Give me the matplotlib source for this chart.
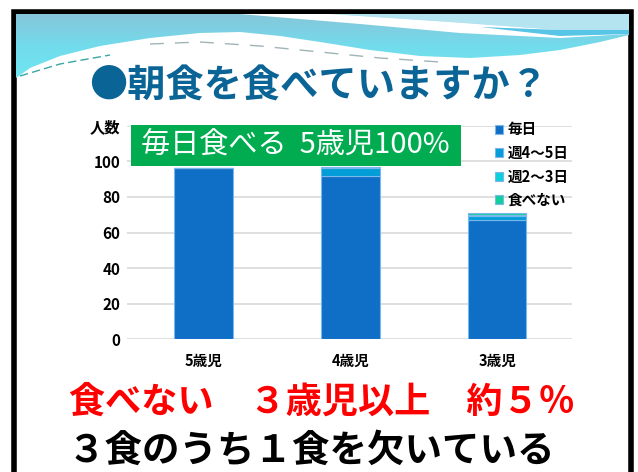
import matplotlib.pyplot as plt
import numpy as np
from matplotlib.patches import Polygon, Rectangle

plt.rcParams['font.family'] = ['Noto Sans CJK JP', 'DejaVu Sans']

# Survey data: children per age group by breakfast frequency
ages = ['5歳児', '4歳児', '3歳児']
series = ['毎日', '週4～5日', '週2～3日', '食べない']
everyday = [96, 92, 67]
four_five = [0, 4, 2]
two_three = [0, 1, 1]
never = [0, 0, 1]
y_ticks = [0, 20, 40, 60, 80, 100, 120]
y_tick_labels = ['0', '20', '40', '60', '80', '100', '人数']

colors = ['#0f6fc6', '#009dd9', '#0bd0d9', '#10cf9b']

W, H = 638, 472


def px(x, y):
    # pixel position (y measured from the top) -> figure fraction
    return x / W, 1 - y / H


fig = plt.figure(figsize=(W / 100, H / 100), dpi=100)

# background layer in pixel units
bg = fig.add_axes([0, 0, 1, 1], zorder=-1)
bg.set_xlim(0, W)
bg.set_ylim(H, 0)
bg.axis('off')

# slide frame
bg.add_patch(Rectangle((13.5, 11.5), 617, 480, facecolor='white', edgecolor='black', lw=4))

# header wave
wave = Polygon([(16, 14), (629, 14), (629, 35), (600, 42), (560, 50), (520, 55), (470, 58),
                (420, 56), (370, 50), (320, 42), (280, 36), (240, 32), (200, 33), (150, 38),
                (100, 46), (60, 56), (30, 68), (16, 78)], closed=True, facecolor='none', edgecolor='none')
bg.add_patch(wave)
grad = np.linspace(0, 1, 100).reshape(-1, 1)
img = bg.imshow(grad, extent=(16, 629, 80, 14), cmap=plt.matplotlib.colors.LinearSegmentedColormap.from_list(
    'hdr', ['#86c6da', '#72dcec', '#6fe6f0']), aspect='auto', zorder=1)
img.set_clip_path(wave)
bg.add_patch(Polygon([(629, 14), (330, 14), (450, 22), (560, 30), (629, 30)], closed=True,
                     facecolor='#b4e4f0', edgecolor='none', zorder=2))
bg.add_patch(Polygon([(240, 14), (330, 14), (450, 22), (560, 30), (629, 30), (629, 34),
                      (560, 38), (460, 33), (360, 24)], closed=True,
                     facecolor='white', edgecolor='none', zorder=3))
bg.add_patch(Polygon([(629, 30), (560, 30), (480, 27), (560, 36), (629, 34)], closed=True,
                     facecolor='#58c4e6', edgecolor='none', zorder=3))
# thin dashed streaks under the wave
bg.plot([20, 60, 110], [76, 64, 55], color='#3aa6a6', lw=1, ls=(0, (6, 3)), zorder=3)
bg.plot([150, 200, 260, 320, 380, 440], [44, 42, 46, 52, 58, 62], color='#a0b4b8', lw=1,
        ls=(0, (10, 8)), zorder=3)

# chart area
l, b = px(127, 339.3)
_, t = px(127, 125.7)
ax = fig.add_axes([l, b, 445 / W, t - b], facecolor='none')

x = np.arange(len(ages))
stack = [everyday, four_five, two_three, never]
bottom = np.zeros(len(ages))
handles = []
for vals, col in zip(stack, colors):
    h = ax.bar(x, vals, width=0.4, bottom=bottom, color=col, edgecolor='#7ab8ec', linewidth=0.8, zorder=3)
    handles.append(h)
    bottom += np.array(vals)

ax.set_xlim(-0.52, 2.51)
ax.set_ylim(0, 120)
ax.set_yticks(y_ticks)
ax.set_yticklabels(y_tick_labels, fontsize=11, fontweight='bold')
ax.set_xticks(x)
ax.set_xticklabels(ages, fontsize=10.5, fontweight='bold')
ax.tick_params(length=0)
ax.tick_params(axis='y', pad=5)
ax.tick_params(axis='x', pad=10)
ax.grid(axis='y', color='#d9d9d9', lw=1.2, zorder=0)
for s in ax.spines.values():
    s.set_visible(False)

fig.legend(handles, series, loc='upper left', bbox_to_anchor=px(488, 114), frameon=False,
           prop={'size': 10.5, 'weight': 'bold'}, handlelength=0.55, handleheight=0.55,
           handletextpad=0.3, labelspacing=0.52, borderpad=0)

# green callout
gx0, gy0 = px(131, 166)
gx1, gy1 = px(461, 125)
fig.add_artist(Rectangle((gx0, gy0), gx1 - gx0, gy1 - gy0, transform=fig.transFigure,
                         facecolor='#00ac4f', edgecolor='none', zorder=5))
fig.text(*px(295, 146), '毎日食べる  5歳児100%', color='white', fontsize=21,
         ha='center', va='center', zorder=6)

# titles
fig.text(*px(319, 86), '●朝食を食べていますか？', color='#0a6496', fontsize=27.5,
         fontweight='bold', ha='center', va='center')
fig.text(*px(322, 402), '食べない　３歳児以上　約５％', color='#ff0000', fontsize=26,
         fontweight='bold', ha='center', va='center')
fig.text(*px(311, 450), '３食のうち１食を欠いている', color='black', fontsize=27,
         fontweight='bold', ha='center', va='center')

fig.savefig('out.png', dpi=100)
